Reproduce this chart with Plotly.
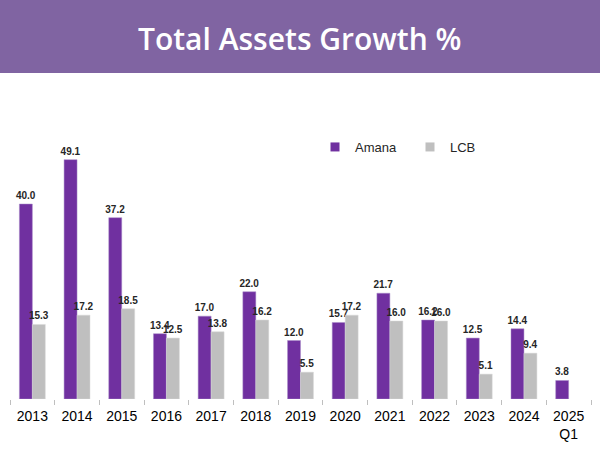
import plotly.graph_objects as go

categories = ["2013", "2014", "2015", "2016", "2017", "2018", "2019", "2020",
              "2021", "2022", "2023", "2024", "2025<br>Q1"]
amana = [40.0, 49.1, 37.2, 13.4, 17.0, 22.0, 12.0, 15.7, 21.7, 16.2, 12.5, 14.4, 3.8]
lcb = [15.3, 17.2, 18.5, 12.5, 13.8, 16.2, 5.5, 17.2, 16.0, 16.0, 5.1, 9.4, None]

W, H = 600, 462
L, R, T, B = 10, 9, 100, 63
plot_h = H - T - B
plot_w = W - L - R

AMANA_C = "#7030A0"
LCB_C = "#BFBFBF"
label_font = dict(family="Liberation Sans, Arial", size=10, color="#262626", weight="bold")

fig = go.Figure()
fig.add_trace(go.Bar(
    x=categories, y=amana, name="Amana", showlegend=False,
    marker=dict(color=AMANA_C, line=dict(color="#A98CC8", width=0.5)),
    texttemplate="%{y:.1f}", textposition="outside", textfont=label_font,
    constraintext="none", textangle=0, cliponaxis=False,
))
fig.add_trace(go.Bar(
    x=categories, y=lcb, name="LCB", showlegend=False,
    marker=dict(color=LCB_C, line=dict(color="#D9D9D9", width=0.5)),
    texttemplate="%{y:.1f}", textposition="outside", textfont=label_font,
    constraintext="none", textangle=0, cliponaxis=False,
))
# legend entries with small square symbols
for name, col in (("Amana", AMANA_C), ("LCB", LCB_C)):
    fig.add_trace(go.Scatter(x=[None], y=[None], mode="markers", name=name,
                             marker=dict(symbol="square", size=9, color=col)))

def py(pix):
    return (H - B - pix) / plot_h

def px(pix):
    return (pix - L) / plot_w

fig.add_shape(type="rect", xref="paper", yref="paper",
              x0=px(0), x1=px(600), y0=py(73), y1=py(0),
              fillcolor="#8064A2", line=dict(width=0), layer="below")
fig.add_annotation(text="Total Assets Growth %", xref="paper", yref="paper",
                   x=px(299), y=py(39), xanchor="center", yanchor="middle",
                   showarrow=False,
                   font=dict(family="Open Sans", size=30, color="white", weight=600))

fig.update_layout(
    width=W, height=H,
    margin=dict(l=L, r=R, t=T, b=B),
    paper_bgcolor="white", plot_bgcolor="white",
    barmode="group", bargap=0.42, bargroupgap=0,
    showlegend=True,
    legend=dict(orientation="h", x=px(315), y=py(147), xanchor="left", yanchor="middle",
                font=dict(family="Liberation Sans, Arial", size=13, color="#262626"),
                entrywidth=50, itemwidth=30, bgcolor="rgba(0,0,0,0)"),
    xaxis=dict(type="category", tickson="boundaries", ticks="outside", ticklen=5,
               tickcolor="#BFBFBF", tickwidth=1, showline=False, showgrid=False,
               ticklabelstandoff=7,
               tickfont=dict(family="Liberation Sans, Arial", size=14, color="black")),
    yaxis=dict(range=[0, plot_h / 4.875], visible=False, showgrid=False),
)

fig.write_html("out.html")
